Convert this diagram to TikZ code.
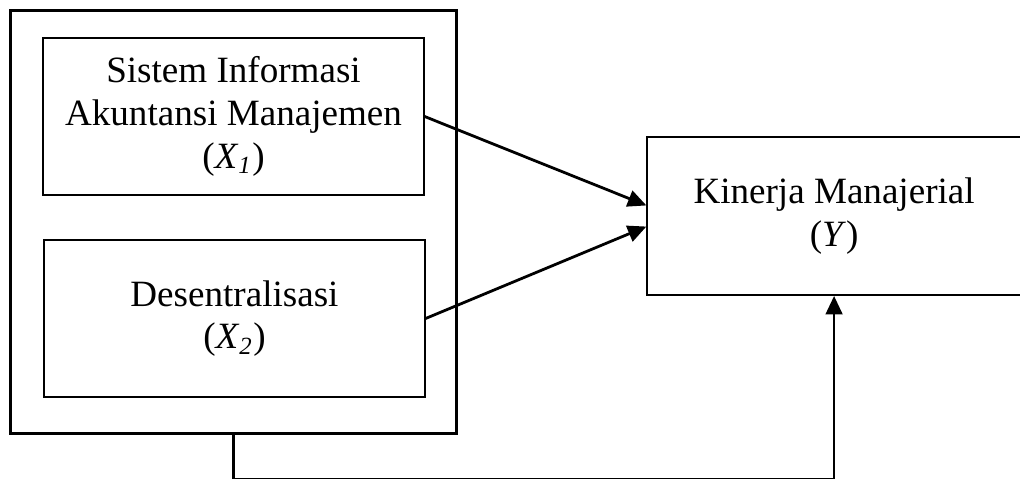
\documentclass[tikz,border=0pt]{standalone}
\usepackage{fontspec}
\setmainfont{Liberation Serif}
\usetikzlibrary{arrows.meta, positioning}

\begin{document}
\begin{tikzpicture}[
    every node/.style={font=\fontsize{12}{13.8}\selectfont},
    var/.style={rectangle, draw=black, line width=0.5pt, align=center,
                minimum width=4.33cm, minimum height=1.79cm, inner sep=1pt},
    group/.style={rectangle, draw=black, line width=1pt,
                  minimum width=5.08cm, minimum height=4.80cm},
    arr/.style={-{Triangle[length=6pt, width=5.4pt]}, line width=0.9pt},
    link/.style={line width=0.75pt},
]
\useasboundingbox (0,0) rectangle (11.597,-5.446);

% ============================================ the two variables X
\node[group] (grp) at (2.655,-2.524) {};
\node[var] (x1) at (2.655,-1.325)
     {Sistem Informasi\\ Akuntansi Manajemen\\ (\textit{X}\textsubscript{\textit{1}})};
\node[var] (x2) at (2.666,-3.621)
     {Desentralisasi\\ (\textit{X}\textsubscript{\textit{2}})};

% ============================================ the variable Y
\node[var, minimum width=4.25cm, minimum height=1.80cm] (y) at (9.483,-2.456)
     {Kinerja Manajerial\\ (\textit{Y})};

% ============================================ the influences
\draw[arr] (x1.east) -- ([yshift=1.2mm]y.west);
\draw[arr] (x2.east) -- ([yshift=-1.2mm]y.west);

% the line back along the foot, mostly cut off by the page edge
\coordinate (low) at (0,-5.452);
\draw[link] (grp.south) -- (grp.south |- low) -- (y.south |- low);
\draw[arr] (y.south |- low) -- (y.south);

\end{tikzpicture}
\end{document}
